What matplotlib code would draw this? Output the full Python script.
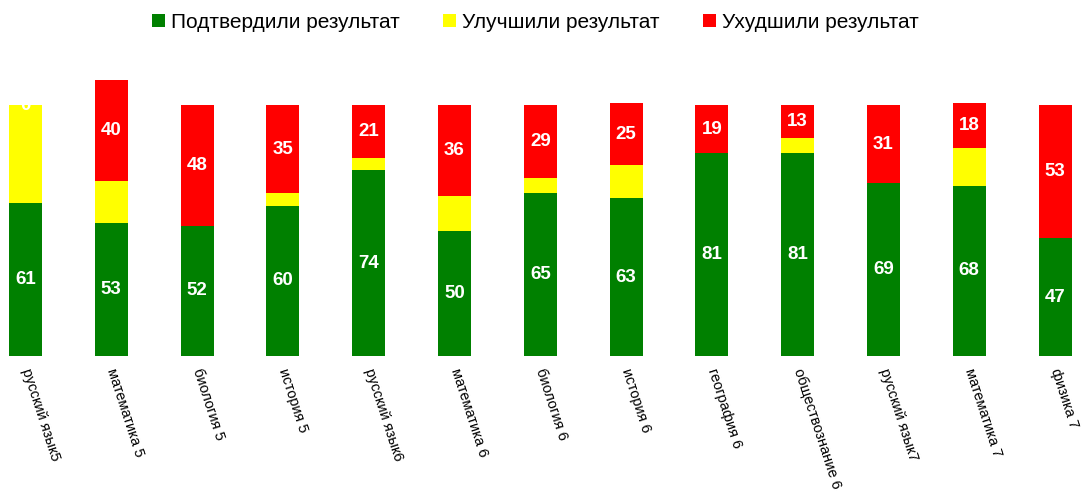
import matplotlib
matplotlib.use("Agg")
import matplotlib.pyplot as plt
import numpy as np

# данные
categories = ["русский язык5", "математика 5", "биология 5", "история 5", "русский язык6",
              "математика 6", "биология 6", "история 6", "география 6", "обществознание 6",
              "русский язык7", "математика 7", "физика 7"]
confirmed = [61, 53, 52, 60, 74, 50, 65, 63, 81, 81, 69, 68, 47]
improved = [39, 17, 0, 5, 5, 14, 6, 13, 0, 6, 0, 15, 0]
worsened = [0, 40, 48, 35, 21, 36, 29, 25, 19, 13, 31, 18, 53]

green = "#008000"
yellow = "#FFFF00"
red = "#FF0000"

plt.rcParams['font.family'] = ['Liberation Sans', 'DejaVu Sans']

fig = plt.figure(figsize=(10.84, 4.91), dpi=100)
ax = fig.add_axes([0, 0.275, 1, 0.582])

x = np.arange(len(categories))
w = 0.385
b1 = ax.bar(x, confirmed, w, color=green, label="Подтвердили результат")
b2 = ax.bar(x, improved, w, bottom=confirmed, color=yellow, label="Улучшили результат")
bottom2 = np.array(confirmed) + np.array(improved)
b3 = ax.bar(x, worsened, w, bottom=bottom2, color=red, label="Ухудшили результат")

# подписи значений
for i in range(len(x)):
    ax.text(x[i], confirmed[i] / 2, str(confirmed[i]), ha='center', va='center',
            color='white', fontsize=13.5, fontweight='bold')
    ax.text(x[i], bottom2[i] + worsened[i] / 2, str(worsened[i]), ha='center', va='center',
            color='white', fontsize=13.5, fontweight='bold')

ax.set_xlim(-0.297, 12.337)
ax.set_ylim(0, 114)
ax.set_xticks(x)
ax.set_xticklabels(categories, rotation=-72, ha='left', va='center', rotation_mode='anchor',
                   fontsize=10.5, family=['Liberation Sans Narrow', 'Liberation Sans', 'DejaVu Sans'])
ax.tick_params(axis='x', length=0, pad=9)
ax.set_yticks([])
for s in ax.spines.values():
    s.set_visible(False)

fig.legend(handles=[b1, b2, b3], loc='upper center', bbox_to_anchor=(0.494, 1.0), ncol=3,
           frameon=False, fontsize=15, handlelength=0.6, handleheight=0.6,
           handletextpad=0.3, columnspacing=2.1, borderaxespad=0.2)

fig.savefig("out.png", dpi=100)
